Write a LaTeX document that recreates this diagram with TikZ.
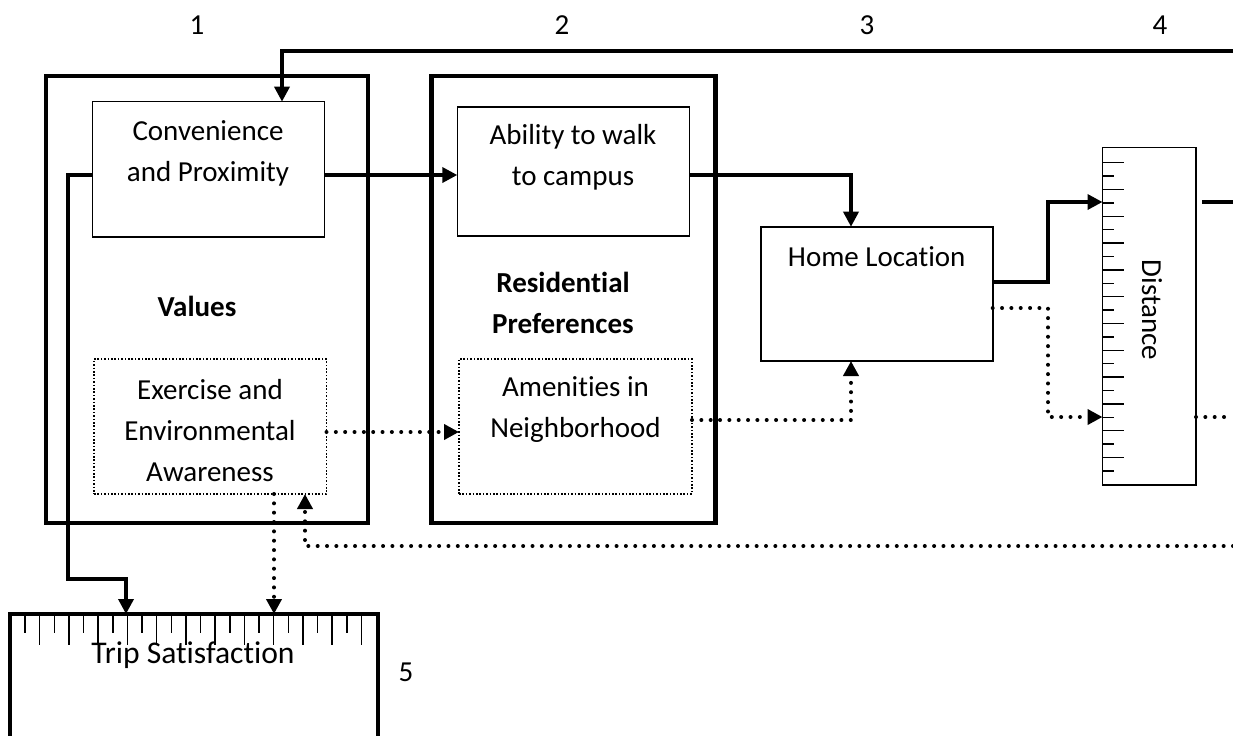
\documentclass[tikz,border=0pt]{standalone}
\usepackage{fontspec}
\setmainfont{Carlito}[Ligatures={NoCommon,TeX}]
\usetikzlibrary{arrows.meta,calc}
\begin{document}
\begin{tikzpicture}[x=0.5pt,y=-0.5pt,
  frame/.style={draw, line width=2.25pt, inner sep=0pt, outer sep=0pt},
  inbox/.style={draw, line width=0.8pt, inner sep=0pt, outer sep=0pt},
  dotbox/.style={inbox, dash pattern=on 0.8pt off 0.9pt},
  txt/.style={font=\fontsize{14.5}{20.5}\selectfont, align=center, inner sep=0pt},
  conn/.style={line width=1.75pt, -{Triangle[length=7.5pt,width=7.5pt]}},
  plainconn/.style={line width=1.75pt},
  dotconn/.style={line width=2pt, line cap=round, dash pattern=on 0pt off 4.67pt, -{Triangle[length=7.5pt,width=7.5pt]}},
  dotline/.style={line width=2pt, line cap=round, dash pattern=on 0pt off 4.67pt},
  tickline/.style={line width=0.75pt}]
\useasboundingbox (0,0) rectangle (1233,735);
\clip (0,0) rectangle (1233,735);

% helper coordinates
\coordinate (rEdge) at (1233,0);
\coordinate (x282) at (282,0);
\coordinate (x68) at (68,0);
\coordinate (x126) at (126,0);
\coordinate (x851) at (851,0);
\coordinate (x1048) at (1048,0);
\coordinate (x274) at (274,0);
\coordinate (x305) at (305,0);
\coordinate (y51) at (0,51);
\coordinate (y175) at (0,175);
\coordinate (y579) at (0,579);
\coordinate (y282) at (0,282);
\coordinate (y308) at (0,308);
\coordinate (y202) at (0,202);
\coordinate (y417) at (0,417);
\coordinate (y432) at (0,432);
\coordinate (y420) at (0,420);
\coordinate (y546) at (0,546);

% boxes
\node[frame, minimum width=161pt, minimum height=223.5pt] (values) at (207,299.5) {};
\node[frame, minimum width=142pt, minimum height=223.5pt] (resid) at (573.5,299.5) {};
\node[inbox, minimum width=116pt, minimum height=67.65pt] (conv) at (208.3,169.3) {};
\node[inbox, minimum width=116pt, minimum height=64.65pt] (abil) at (573.3,171.35) {};
\node[inbox, minimum width=116pt, minimum height=67.15pt] (home) at (876.7,293.85) {};
\node[dotbox, minimum width=116.25pt, minimum height=67.5pt] (exer) at (210.25,426.5) {};
\node[dotbox, minimum width=116.5pt, minimum height=67.5pt] (amen) at (575.5,426.5) {};
\node[inbox, minimum width=46.75pt, minimum height=168.85pt] (dist) at (1149.25,316.15) {};
\node[inner sep=0pt, outer sep=0pt, minimum width=184pt, minimum height=100pt, anchor=north] (trip) at (194,614) {};
\draw[line width=2.25pt] (trip.south west) -- (trip.north west) -- (trip.north east) -- (trip.south east);

% ticks
\foreach \i in {0,...,23} {
  \pgfmathsetmacro\dx{15+14.63*\i}
  \ifodd\i
    \draw[tickline] (trip.north west) ++(\dx,0) -- ++(0,31);
  \else
    \draw[tickline] (trip.north west) ++(\dx,0) -- ++(0,19);
  \fi
}
\foreach \i in {0,...,23} {
  \pgfmathsetmacro\dy{15.4+13.4*\i}
  \ifodd\i
    \draw[tickline] (dist.north west) ++(0,\dy) -- ++(11,0);
  \else
    \draw[tickline] (dist.north west) ++(0,\dy) -- ++(21,0);
  \fi
}

% texts
\node[txt] (convt) at (208,153) {Convenience\\and Proximity};
\node[txt] (abilt) at (573,157.5) {Ability to walk\\to campus};
\node[txt] (homet) at (876.7,256.7) {Home Location};
\node[txt, font=\fontsize{14.5}{20.5}\selectfont\bfseries] (valt) at (197,306) {Values};
\node[txt, font=\fontsize{14.5}{20.5}\selectfont\bfseries] (rest) at (563,302.5) {Residential\\Preferences};
\node[txt] (exert) at (210,431) {Exercise and\\Environmental\\Awareness};
\node[txt] (ament) at (575.5,410) {Amenities in\\Neighborhood};
\node[txt, rotate=-90] (distt) at (1152,310) {Distance};
\node[txt, font=\fontsize{15.8}{20.5}\selectfont] (tript) at (193,655) {Trip Satisfaction};
\node[txt] (n1) at (197,25) {1};
\node[txt] (n2) at (562,25) {2};
\node[txt] (n3) at (867,25) {3};
\node[txt] (n4) at (1160,25) {4};
\node[txt] (n5) at (406,672) {5};

% solid connectors
\draw[conn] (rEdge |- y51) -| (conv.north -| x282);
\draw[conn] (conv.east |- y175) -- (abil.west |- y175);
\draw[conn] (conv.west |- y175) -| (x68 |- y579) -| (trip.north -| x126);
\draw[conn] (abil.east |- y175) -| (home.north -| x851);
\draw[conn] (home.east |- y282) -| (x1048 |- y202) -- (dist.west |- y202);
\draw[plainconn] ($(dist.east |- y202)+(6,0)$) -- (rEdge |- y202);

% dotted connectors
\draw[dotconn] (home.east |- y308) -| (x1048 |- y417) -- (dist.west |- y417);
\draw[dotline] (dist.east |- y417) -- (rEdge |- y417);
\draw[dotconn] (exer.east |- y432) -- (amen.west |- y432);
\draw[dotconn] (amen.east |- y420) -| (home.south -| x851);
\draw[dotconn] (exer.south -| x274) -- (trip.north -| x274);
\draw[dotconn] (rEdge |- y546) -| (exer.south -| x305);
\end{tikzpicture}
\end{document}
